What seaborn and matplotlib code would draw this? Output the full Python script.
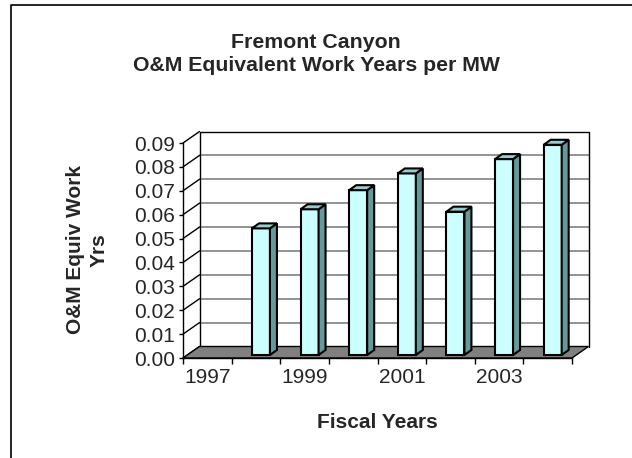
import numpy as np
import pandas as pd
import matplotlib
matplotlib.use('Agg')
from matplotlib import pyplot as plt
from matplotlib.patches import Polygon
from matplotlib.lines import Line2D
import seaborn as sns

years = ['1997', '1998', '1999', '2000', '2001', '2002', '2003', '2004']
work_years = [np.nan, 0.053, 0.061, 0.069, 0.076, 0.060, 0.082, 0.088]
shown_years = ['1997', '1999', '2001', '2003']
y_ticks = [0.00, 0.01, 0.02, 0.03, 0.04, 0.05, 0.06, 0.07, 0.08, 0.09]

sns.set_style('white')
plt.rcParams['font.family'] = ['Liberation Sans', 'DejaVu Sans']

W, H = 632, 458
fig = plt.figure(figsize=(W / 100, H / 100), dpi=100)
# front plane of the fake 3d box, in pixels
left, top, width, height = 183, 143, 389, 215
ax = fig.add_axes([left / W, 1 - (top + height) / H, width / W, height / H])

df = pd.DataFrame({'year': years, 'value': work_years}).dropna()
sns.barplot(data=df, x='year', y='value', order=years, color='#CCFFFF',
            saturation=1, width=0.37, edgecolor='black', linewidth=1.5, ax=ax)

xl, xr = -0.5, len(years) - 0.5
ymax = y_ticks[-1]
ax.set_xlim(xl, xr)
ax.set_ylim(0, ymax)

ppx = width / len(years)
ppy = height / ymax
def dx(px):
    return px / ppx
def dy(px):
    return px / ppy

# back wall / floor depth
bx, by = dx(16.5), dy(11.5)
for v in y_ticks[1:-1]:
    ax.plot([xl + bx, xr + bx], [v + by, v + by], color='#808080', lw=1.2,
            clip_on=False, zorder=0.5)
ax.plot([xl + bx, xl + bx, xr + bx, xr + bx], [by, ymax + by, ymax + by, by],
        color='black', lw=1, clip_on=False, zorder=0.6)
for v in y_ticks:
    ax.plot([xl, xl + bx], [v, v + by], color='black', lw=1, clip_on=False, zorder=0.6)
floor = Polygon([(xl, 0), (xr, 0), (xr + bx, by), (xl + bx, by)], closed=True,
                facecolor='#808080', edgecolor='black', lw=1, clip_on=False, zorder=0.8)
ax.add_patch(floor)

# bars: shift front faces back a bit, add side and top faces
sx, sy = dx(5), dy(3)
ddx, ddy = dx(7), dy(5)
for p in list(ax.patches):
    if p is floor or not np.isfinite(p.get_height()):
        continue
    p.set_x(p.get_x() + sx)
    p.set_y(p.get_y() + sy)
    p.set_zorder(2)
    x0, y0 = p.get_x(), p.get_y()
    x1, y1 = x0 + p.get_width(), y0 + p.get_height()
    side = Polygon([(x1, y0), (x1 + ddx, y0 + ddy), (x1 + ddx, y1 + ddy), (x1, y1)],
                   closed=True, facecolor='#669999', edgecolor='black', lw=1.5,
                   clip_on=False, zorder=2)
    cap = Polygon([(x0, y1), (x1, y1), (x1 + ddx, y1 + ddy), (x0 + ddx, y1 + ddy)],
                  closed=True, facecolor='#99CCCC', edgecolor='black', lw=1.5,
                  clip_on=False, zorder=2)
    ax.add_patch(side)
    ax.add_patch(cap)
    p.set_clip_on(False)

for s in ['top', 'right']:
    ax.spines[s].set_visible(False)
for s in ['left', 'bottom']:
    ax.spines[s].set_color('black')
    ax.spines[s].set_linewidth(1)
    ax.spines[s].set_zorder(3)

ax.set_xticks([years.index(y) for y in shown_years])
ax.set_xticklabels(shown_years)
ax.set_xticks(np.arange(xl, xr + 0.01, 1), minor=True)
ax.tick_params(axis='x', which='major', length=0, pad=7, labelsize=15)
ax.tick_params(axis='x', which='minor', length=4, width=1, direction='out', color='black')
ax.set_yticks(y_ticks)
ax.set_yticklabels(['%.2f' % v for v in y_ticks])
ax.tick_params(axis='y', length=3, width=1, direction='out', color='black',
               pad=3, labelsize=15, left=True)
ax.tick_params(axis='x', bottom=True, which='both')
ax.set_xlabel('')
ax.set_ylabel('')
ax.grid(False)

fig.text(316 / W, 1 - 54 / H, 'Fremont Canyon\nO&M Equivalent Work Years per MW',
         ha='center', va='center', fontsize=15.3, fontweight='bold', linespacing=1.3)
fig.text(377 / W, 1 - 422 / H, 'Fiscal Years', ha='center', va='center',
         fontsize=15, fontweight='bold')
fig.text(87 / W, 1 - 250 / H, 'O&M Equiv Work\nYrs', ha='center', va='center',
         rotation=90, fontsize=15, fontweight='bold', linespacing=1.3)

# chart border
fig.add_artist(Line2D([1, 11 / W, 11 / W], [1 - 5 / H, 1 - 5 / H, 0],
                      color='black', lw=1.2))

fig.savefig('out.png', dpi=100)
